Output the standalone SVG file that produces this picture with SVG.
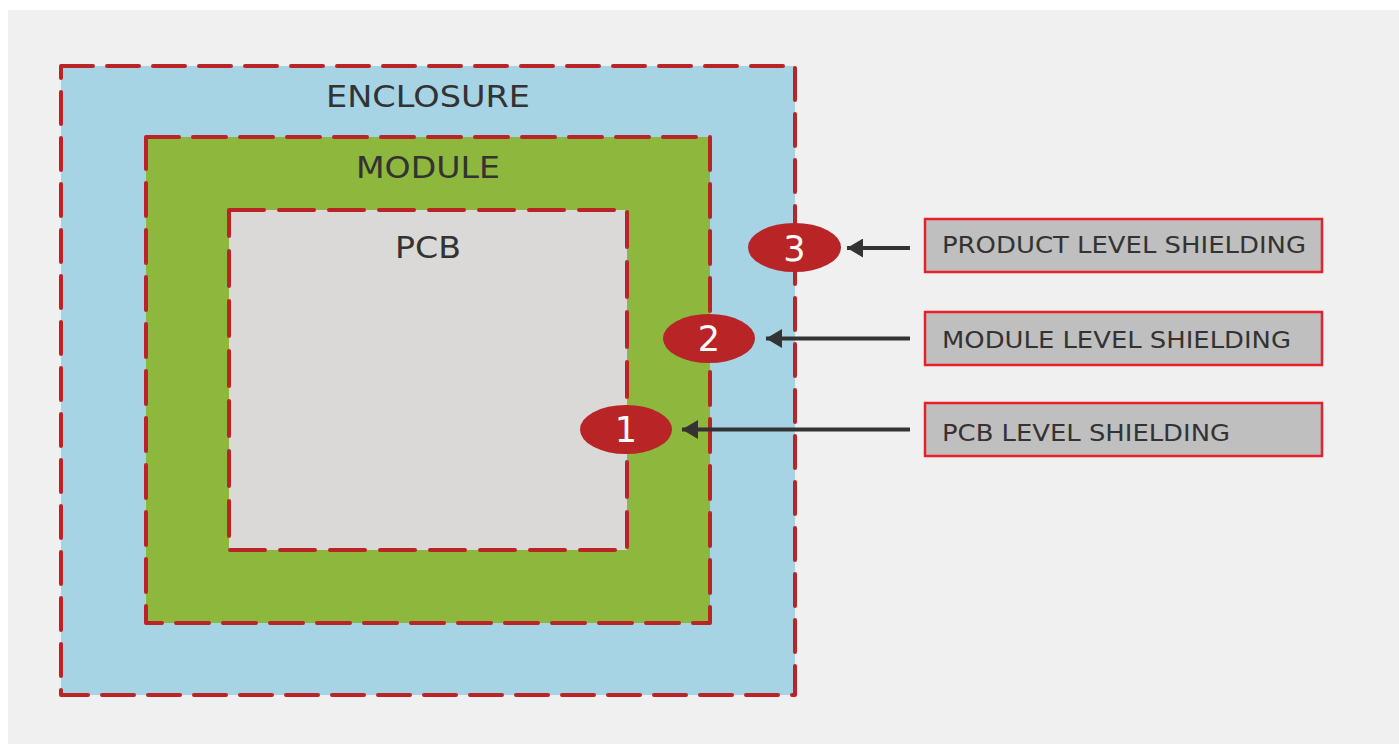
<svg xmlns="http://www.w3.org/2000/svg" width="1399" height="744" viewBox="0 0 1399 744">
<defs>
<style>
.shield{stroke:#bb2427;stroke-width:4;stroke-linecap:round;stroke-linejoin:round;fill:none;}
.title{font-family:"DejaVu Sans","Liberation Sans",sans-serif;font-size:30px;fill:#333333;}
.badge{fill:#b92426;}
.num{font-family:"DejaVu Sans","Liberation Sans",sans-serif;font-size:35px;fill:#ffffff;text-anchor:middle;}
.conn{stroke:#333333;stroke-width:4;fill:none;}
.lbox{fill:#bfbfbf;stroke:#e8202a;stroke-width:2.5;}
.ltext{font-family:"DejaVu Sans","Liberation Sans",sans-serif;font-size:23.5px;fill:#333333;}
</style>
<marker id="ah" markerWidth="16" markerHeight="19" refX="16" refY="9.5" orient="auto" markerUnits="userSpaceOnUse" viewBox="0 0 16 19">
<path d="M16,9.5 L0,0 L0,19 Z" fill="#333333"/>
</marker>
</defs>
<rect x="0" y="0" width="1399" height="744" fill="#ffffff"/>
<rect x="8" y="10" width="1391" height="734" fill="#f0f0f0"/>

<g id="enclosure">
<rect x="61" y="66" width="734" height="629" fill="#a6d4e5"/>
<rect class="shield" x="61" y="66" width="734" height="629" stroke-dasharray="32 14"/>
<text class="title" x="326" y="107" textLength="204" lengthAdjust="spacingAndGlyphs">ENCLOSURE</text>
</g>
<g id="module">
<rect x="146" y="137" width="564" height="486" fill="#8db73d"/>
<rect class="shield" x="146" y="137" width="564" height="486" stroke-dasharray="33 14"/>
<text class="title" x="356" y="178" textLength="144" lengthAdjust="spacingAndGlyphs">MODULE</text>
</g>
<g id="pcb">
<rect x="229" y="210" width="398" height="340" fill="#dad9d8"/>
<rect class="shield" x="229" y="210" width="398" height="340" stroke-dasharray="35 15"/>
<text class="title" x="395" y="258" textLength="66" lengthAdjust="spacingAndGlyphs">PCB</text>
</g>

<g id="badge3"><ellipse class="badge" cx="794.5" cy="247.5" rx="46.5" ry="24.5"/><text class="num" x="794.5" y="261">3</text></g>
<g id="badge2"><ellipse class="badge" cx="709" cy="338.5" rx="46" ry="24.5"/><text class="num" x="709" y="351">2</text></g>
<g id="badge1"><ellipse class="badge" cx="626" cy="429.5" rx="46" ry="24.5"/><text class="num" x="626" y="442">1</text></g>

<g id="connectors">
<line class="conn" x1="910" y1="248" x2="847" y2="248" marker-end="url(#ah)"/>
<line class="conn" x1="910" y1="338.5" x2="766" y2="338.5" marker-end="url(#ah)"/>
<line class="conn" x1="910" y1="429.5" x2="682" y2="429.5" marker-end="url(#ah)"/>
</g>

<g id="label-product"><rect class="lbox" x="925" y="219" width="397" height="53"/><text class="ltext" x="942" y="253" textLength="364" lengthAdjust="spacingAndGlyphs">PRODUCT LEVEL SHIELDING</text></g>
<g id="label-module"><rect class="lbox" x="925" y="312" width="397" height="53"/><text class="ltext" x="942" y="347.5" textLength="349" lengthAdjust="spacingAndGlyphs">MODULE LEVEL SHIELDING</text></g>
<g id="label-pcb"><rect class="lbox" x="925" y="403" width="397" height="53"/><text class="ltext" x="942" y="441" textLength="288" lengthAdjust="spacingAndGlyphs">PCB LEVEL SHIELDING</text></g>
</svg>
